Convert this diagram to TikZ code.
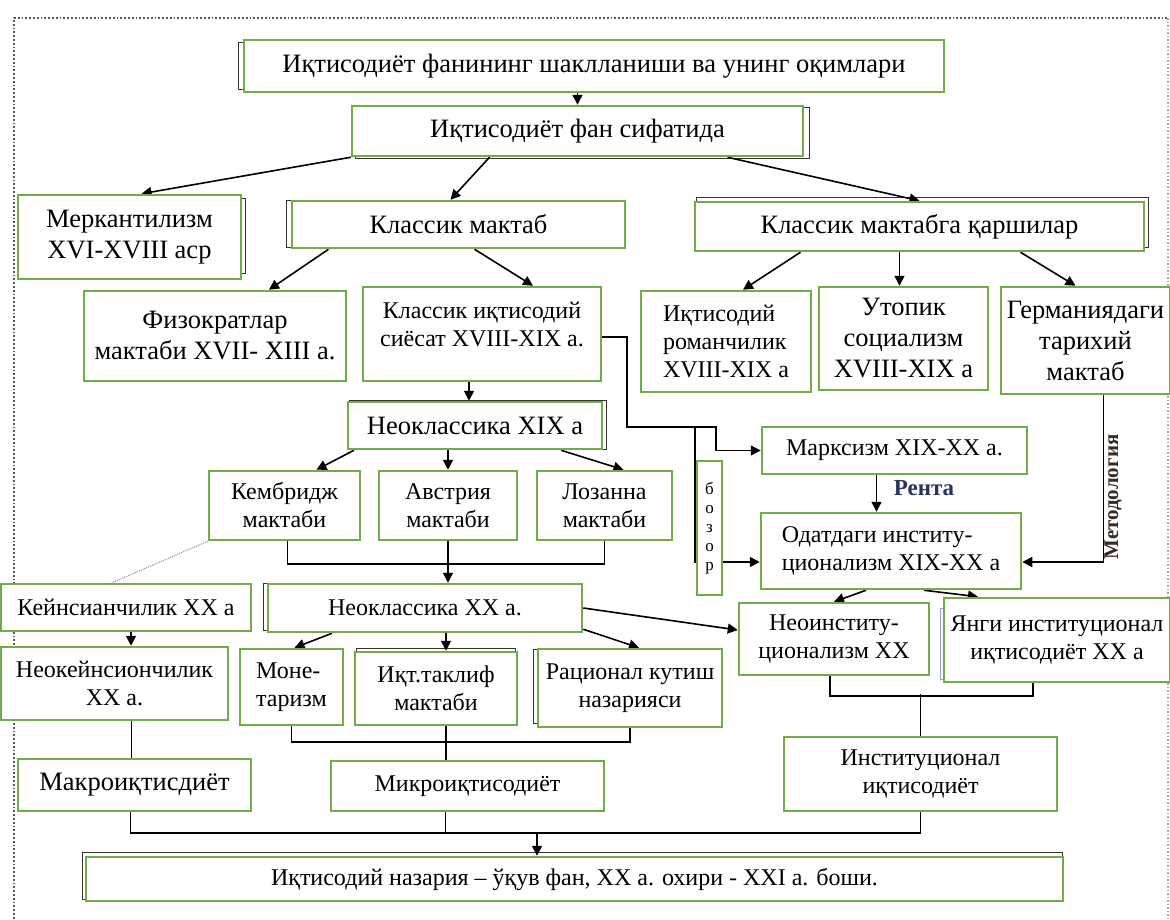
\documentclass[tikz,border=0pt]{standalone}
\usepackage{fontspec}
\setmainfont{Liberation Serif}
\usetikzlibrary{arrows.meta, backgrounds}
\definecolor{boxgreen}{HTML}{70AD47}
\definecolor{rentablue}{HTML}{26335C}
\definecolor{metodbrown}{HTML}{3A2A20}
\newcommand{\bigtxt}{\fontsize{26.5}{31}\selectfont}
\newcommand{\smtxt}{\fontsize{24}{28}\selectfont}

\begin{document}
\begin{tikzpicture}[x=1pt, y=-1pt,
  box/.style={draw=boxgreen, line width=2.5pt, fill=white, inner sep=0pt, align=center, font=\smtxt},
  big/.style={font=\bigtxt},
  arr/.style={draw=black, line width=1.6pt, -{Triangle[length=10pt,width=10pt]}},
  link/.style={draw=black, line width=1.6pt},
  ghost/.style={draw=black!80, line width=1.3pt}]
  \useasboundingbox (0,0) rectangle (1170,919);

  % ramka
  \draw[dotted, line width=1.8pt, black!65] (14,930) -- (14,18) -- (1168,18);
  \draw[dotted, line width=1.5pt, black!35] (1168,18) -- (1168,930);

  % yuqori qator
  \node[box, big, minimum width=700pt, minimum height=52pt] (title) at (594,66) {Иқтисодиёт фанининг шаклланиши ва унинг оқимлари};
  \node[box, big, minimum width=451pt, minimum height=50pt] (fan) at (577.5,131) {Иқтисодиёт фан сифатида};

  % maktablar
  \node[box, big, minimum width=223pt, minimum height=84pt] (merk) at (129.5,237) {Меркантилизм\\XVI-XVIII аср};
  \node[box, big, minimum width=333pt, minimum height=47pt] (klassik) at (458.5,224.5) {Классик мактаб};
  \node[box, big, minimum width=449pt, minimum height=49pt] (qarshi) at (919.5,226.5) {Классик мактабга қаршилар};

  \node[box, big, minimum width=262pt, minimum height=90pt] (fizo) at (215,336) {Физократлар\\мактаби XVII- XIII а.};
  \node[box, minimum width=238pt, minimum height=94pt] (siyosat) at (482,334) {Классик иқтисодий\\сиёсат XVIII-XIX а.\\[-8pt]\mbox{}};
  \node[box, align=left, minimum width=170pt, minimum height=101pt] (roman) at (726,341.5) {Иқтисодий\\романчилик\\XVIII-XIX а};
  \node[box, big, minimum width=169pt, minimum height=103pt] (utopik) at (903.5,338.5) {Утопик\\социализм\\XVIII-XIX а};
  \node[box, big, minimum width=169pt, minimum height=107pt] (german) at (1085.5,340.5) {Германиядаги\\тарихий\\мактаб};

  % neoklassika
  \node[box, big, minimum width=254pt, minimum height=47pt] (neoXIX) at (475,425.5) {Неоклассика XIX а};
  \node[box, minimum width=151pt, minimum height=69pt] (kembridj) at (284.5,505.5) {Кембридж\\мактаби};
  \node[box, minimum width=138pt, minimum height=69pt] (avstriya) at (448,505.5) {Австрия\\мактаби};
  \node[box, minimum width=135pt, minimum height=69pt] (lozanna) at (604.5,505.5) {Лозанна\\мактаби};

  % institutsionalizm
  \node[box, minimum width=265pt, minimum height=47pt] (marks) at (894.5,450.5) {Марксизм XIX-XX а.};
  \node[box, line width=2pt, minimum width=25pt, minimum height=134pt, font=\fontsize{17}{19}\selectfont] (bozor) at (709.5,528) {б\\о\\з\\о\\р};
  \node[box, align=left, minimum width=260pt, minimum height=76pt] (odat) at (891,551) {Одатдаги институ-\\ционализм XIX-XX а};
  \node[font=\bfseries\fontsize{23}{26}\selectfont, text=rentablue] (renta) at (924,488) {Рента};
  \node[rotate=90, font=\bfseries\fontsize{21}{24}\selectfont, text=metodbrown] (metod) at (1113,497) {Методология};

  \node[box, minimum width=250pt, minimum height=47pt] (keyns) at (126,607.5) {Кейнсианчилик XX а};
  \node[box, minimum width=314pt, minimum height=48pt] (neoXX) at (425,608) {Неоклассика XX а.};
  \node[box, minimum width=190pt, minimum height=72pt] (neoinst) at (834,639) {Неоинститу-\\ционализм XX};
  \node[box, minimum width=226pt, minimum height=84pt] (yangi) at (1057,640) {Янги институционал\\иқтисодиёт XX а};

  \node[box, minimum width=227pt, minimum height=73pt] (neokeyns) at (114.5,683.5) {Неокейнсиончилик\\XX а.};
  \node[box, align=left, minimum width=103pt, minimum height=76pt] (mone) at (291.5,687) {Моне-\\таризм};
  \node[box, minimum width=162pt, minimum height=73pt] (iqtaklif) at (436,688.5) {Иқт.таклиф\\мактаби};
  \node[box, minimum width=184pt, minimum height=78pt] (ratsional) at (630,688) {Рационал кутиш\\назарияси};

  % pastki qator
  \node[box, big, minimum width=233pt, minimum height=52pt] (makro) at (134.5,785) {Макроиқтисдиёт};
  \node[box, minimum width=273pt, minimum height=50pt] (mikro) at (467.5,786) {Микроиқтисодиёт};
  \node[box, minimum width=273pt, minimum height=74pt] (instit) at (920.5,774) {Институционал\\иқтисодиёт};
  \node[box, minimum width=977pt, minimum height=44pt] (bottom) at (574.5,879) {Иқтисодий назария – ўқув фан, XX а. охири - XXI а. боши.};

  \begin{scope}[on background layer]
    % soyalar
    \draw[ghost] ([shift={(-4,4)}]title.north west) rectangle ([shift={(-4,-4)}]title.south east);
    \draw[ghost] ([shift={(5,3)}]fan.north west) rectangle ([shift={(5,1)}]fan.south east);
    \draw[ghost] ([shift={(3,5)}]merk.north west) rectangle ([shift={(3,-7)}]merk.south east);
    \draw[ghost] ([shift={(-4,1)}]klassik.north west) rectangle ([shift={(-4,-2)}]klassik.south east);
    \draw[ghost] ([shift={(3,-3)}]qarshi.north west) rectangle ([shift={(3,-5)}]qarshi.south east);
    \draw[ghost] ([shift={(3,0)}]neoXIX.north west) rectangle ([shift={(3,-1)}]neoXIX.south east);
    \draw[ghost] ([shift={(-3,1)}]neoXX.north west) rectangle ([shift={(-3,-3)}]neoXX.south east);
    \draw[ghost] ([shift={(-3,2)}]ratsional.north west) rectangle ([shift={(-3,-5)}]ratsional.south east);
    \draw[ghost] ([shift={(3,-2)}]iqtaklif.north west) rectangle ([shift={(-3,-2)}]iqtaklif.south east);
    \draw[ghost, draw=blue!40] ([shift={(-2,12)}]yangi.north west) rectangle ([shift={(-2,-4)}]yangi.south east);
    \draw[ghost] ([shift={(-2,-3)}]bottom.north west) rectangle ([shift={(-2,-3)}]bottom.south east);

    % strelkalar
    \draw[arr] (title.south -| fan.north) -- (fan.north);
    \draw[arr] (fan.south west) -- ([xshift=12pt]merk.north);
    \draw[arr] ([xshift=-88pt]fan.south) -- ([xshift=-8pt]klassik.north);
    \draw[arr] ([xshift=150pt]fan.south) -- (qarshi.north);
    \draw[arr] ([xshift=-130pt]klassik.south) -- ([xshift=54pt]fizo.north);
    \draw[arr] ([xshift=16pt]klassik.south) -- ([xshift=51pt]siyosat.north);
    \draw[arr] ([xshift=-119pt]qarshi.south) -- ([xshift=17pt]roman.north);
    \draw[arr] ([xshift=-4pt]utopik.north |- qarshi.south) -- ([xshift=-4pt]utopik.north);
    \draw[arr] ([xshift=101pt]qarshi.south) -- ([xshift=-10pt]german.north);
    \draw[arr] ([xshift=-6pt]neoXIX.north |- siyosat.south) -- ([xshift=-6pt]neoXIX.north);

    % marksizm va bozor
    \coordinate (bend) at (627,427);
    \coordinate (fork) at (695,427);
    \draw[arr] ([yshift=-3pt]siyosat.east) -| (bend) -| ([xshift=-45pt]marks.west) -- (marks.west);
    \draw[arr] (fork) |- ([yshift=-11pt]odat.west);
    \draw[arr] ([xshift=-18pt]marks.south) -- ([xshift=-18pt]marks.south |- odat.north);
    \draw[arr] ([xshift=18pt]german.south) |- ([yshift=-11pt]odat.east);

    \draw[arr] ([xshift=-121pt]neoXIX.south) -- ([xshift=32pt]kembridj.north);
    \draw[arr] (avstriya.north |- neoXIX.south) -- (avstriya.north);
    \draw[arr] ([xshift=86pt]neoXIX.south) -- ([xshift=19pt]lozanna.north);
    \draw[link] ([xshift=3pt]kembridj.south) -- ++(0,23) -| (lozanna.south);
    \draw[arr] (avstriya.south) -- (avstriya.south |- neoXX.north);

    \draw[densely dotted, line width=1pt, black!45] (kembridj.south west) -- ([xshift=-14pt]keyns.north);
    \draw[arr] ([xshift=5pt]keyns.south) -- ([xshift=5pt]keyns.south |- neokeyns.north);

    \draw[arr] ([xshift=-93pt]neoXX.south) -- ([xshift=3pt]mone.north);
    \draw[arr] ([xshift=10pt]iqtaklif.north |- neoXX.south) -- ([xshift=10pt]iqtaklif.north);
    \draw[arr] ([yshift=4pt]neoXX.south east) -- ([xshift=9pt]ratsional.north);
    \draw[arr] (neoXX.east) -- ([yshift=9pt]neoinst.west);
    \draw[arr] ([xshift=-25pt]odat.south) -- (neoinst.north);
    \draw[arr] ([xshift=33pt]odat.south) -- ([xshift=-79pt]yangi.north);

    % birlashmalar
    \draw[link] (mone.south) -- ++(0,16) -| (ratsional.south);
    \draw[link] ([xshift=10pt]iqtaklif.south) -- ([xshift=10pt]iqtaklif.south |- mikro.north);
    \draw[link] ([xshift=-4pt]neoinst.south) -- ++(0,20) -| ([xshift=-24pt]yangi.south);
    \draw[link] (instit.north) -- ++(0,-42);
    \draw[link] ([xshift=17pt]neokeyns.south) -- ([xshift=17pt]neokeyns.south |- makro.north);
    \draw[link] ([xshift=-4pt]makro.south) -- ++(0,21) -| (instit.south);
    \draw[link] ([xshift=-22pt]mikro.south) -- ++(0,21);
    \coordinate (hub) at (537,832);
    \draw[arr] (hub) -- (hub |- bottom.north);
  \end{scope}
\end{tikzpicture}
\end{document}
